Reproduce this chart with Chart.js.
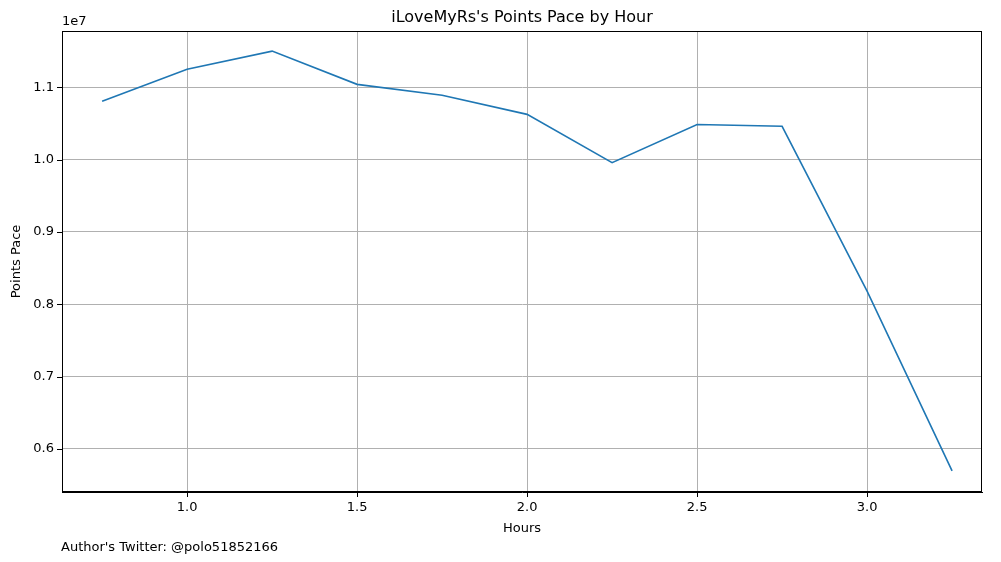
<!DOCTYPE html>
<html><head><meta charset="utf-8">
<script src="https://cdn.jsdelivr.net/npm/chart.js@4/dist/chart.umd.min.js"></script>
<style>html,body{margin:0;padding:0;background:#fff}#w{width:1001px;height:562px}</style>
</head><body><div id="w"><canvas id="c"></canvas></div>
<script>
const hours=[0.75,1.0,1.25,1.5,1.75,2.0,2.25,2.5,2.75,3.0,3.25];
const pace=[10806000,11250000,11500000,11040000,10890000,10625000,9958000,10486000,10460000,8180000,5694000];
const xTicks=[1.0,1.5,2.0,2.5,3.0];
const yTicks=[6000000,7000000,8000000,9000000,10000000,11000000];
const F='"DejaVu Sans", sans-serif';
const deco={id:'deco',afterDraw(ch){const c=ch.ctx,a=ch.chartArea;c.save();
c.strokeStyle='#000';c.lineWidth=1;c.strokeRect(a.left+0.5,a.top+0.5,a.right-a.left-1,a.bottom-a.top-1);
c.beginPath();
xTicks.forEach(v=>{const x=Math.round(ch.scales.x.getPixelForValue(v))+0.5;c.moveTo(x,a.bottom);c.lineTo(x,a.bottom+5);});
yTicks.forEach(v=>{const y=Math.round(ch.scales.y.getPixelForValue(v))+0.5;c.moveTo(a.left,y);c.lineTo(a.left-5,y);});
c.stroke();
c.fillStyle='#000';
c.font='16px '+F;c.textAlign='center';c.textBaseline='alphabetic';
c.fillText("iLoveMyRs's Points Pace by Hour",(a.left+a.right)/2,a.top-9);
c.font='13px '+F;c.fillText('Hours',(a.left+a.right)/2,532);
c.textAlign='left';c.fillText('1e7',a.left,a.top-6);
c.fillText("Author's Twitter: @polo51852166",61,551);
c.translate(20,(a.top+a.bottom)/2);c.rotate(-Math.PI/2);c.textAlign='center';c.fillText('Points Pace',0,0);
c.restore();}};
new Chart(document.getElementById('c'),{type:'line',
data:{datasets:[{data:hours.map((h,i)=>({x:h,y:pace[i]})),borderColor:'#1f77b4',borderWidth:1.6,pointRadius:0,tension:0,fill:false}]},
options:{responsive:true,maintainAspectRatio:false,animation:false,
layout:{padding:{left:0,right:19,top:31,bottom:0}},
plugins:{legend:{display:false},tooltip:{enabled:false}},
scales:{
x:{type:'linear',min:0.632,max:3.338,afterBuildTicks:s=>{s.ticks=xTicks.map(v=>({value:v}))},
afterFit:s=>{s.height=70},
ticks:{color:'#000',font:{size:13,family:F},callback:v=>v.toFixed(1),maxRotation:0,autoSkip:false,padding:2},
grid:{color:'#b0b0b0',drawTicks:true,tickColor:'rgba(0,0,0,0)',tickLength:6},border:{color:'#000',width:1}},
y:{type:'linear',min:5403000,max:11778000,afterBuildTicks:s=>{s.ticks=yTicks.map(v=>({value:v}))},
afterFit:s=>{s.width=62},
ticks:{color:'#000',font:{size:13,family:F},callback:v=>(v/1e7).toFixed(1),autoSkip:false,padding:2},
grid:{color:'#b0b0b0',drawTicks:true,tickColor:'rgba(0,0,0,0)',tickLength:6},border:{color:'#000',width:1}}
}},plugins:[deco]});
</script></body></html>
